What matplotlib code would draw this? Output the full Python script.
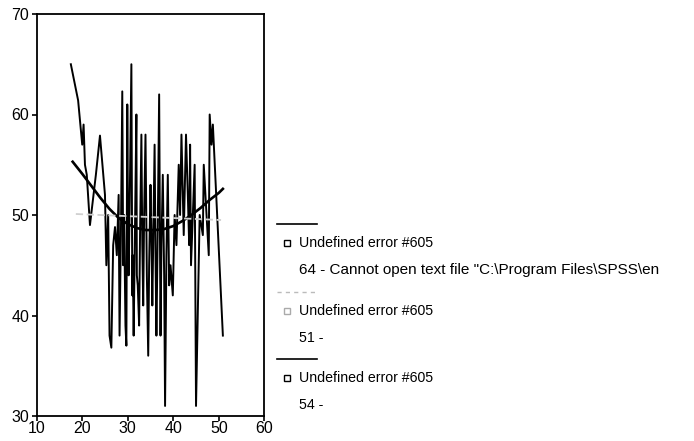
import matplotlib
matplotlib.use("Agg")
import matplotlib.pyplot as plt
from matplotlib.lines import Line2D

plt.rcParams['font.family'] = ['Liberation Sans', 'DejaVu Sans']

# observed series (jagged line)
obs_x = [17.5, 19.1, 20.0, 20.3, 20.6, 21.0, 21.7, 23.0, 23.9, 25.0, 25.3, 25.7, 26.0, 26.4,
         26.8, 27.2, 27.6, 28.0, 28.2, 28.5, 28.8, 29.0, 29.2, 29.5, 29.7, 29.9, 30.1,
         30.2, 30.4, 30.8, 31.0, 31.1, 31.3, 31.6, 31.9, 32.0, 32.2, 32.5, 32.7, 33.0,
         33.2, 33.4, 33.6, 33.9, 34.2, 34.5, 34.7, 35.0, 35.2, 35.4, 35.9, 36.1, 36.3,
         36.6, 36.9, 37.2, 37.4, 37.7, 38.0, 38.2, 38.5, 38.8, 39.1, 39.4, 39.9, 40.3,
         40.7, 41.2, 41.5, 41.8, 42.3, 42.8, 43.2, 43.5, 43.7, 43.9, 44.3, 44.7, 45.0,
         45.8, 46.5, 46.7, 47.8, 48.0, 48.4, 48.7, 50.9]
obs_y = [65, 61.4, 57, 59, 55, 54, 49, 54, 57.9, 52, 45, 50, 38, 36.8,
         47, 48.8, 46, 52, 38, 48, 62.3, 45, 50, 39, 37, 61, 47,
         44, 50, 65, 42, 46, 38, 49, 60, 44, 43, 39, 48, 58,
         47, 41, 50, 58, 44, 36, 45, 53, 48, 41, 57, 46, 38,
         49, 62, 38, 47, 54, 44, 31, 46, 54, 43, 45, 42, 50,
         47, 55, 50, 58, 48, 58, 52, 47, 57, 45, 50, 55, 31,
         50, 48, 55, 46, 60, 57, 59, 38]

# quadratic fit curve
quad_x = [17.9, 20, 22, 24, 26, 28, 30, 32, 34, 36, 38, 40, 42, 44, 46, 48, 50, 50.9]
quad_y = [55.3, 54.1, 52.9, 51.7, 50.6, 49.7, 49.1, 48.7, 48.5, 48.5, 48.6, 48.9, 49.4,
          50.0, 50.7, 51.5, 52.2, 52.6]

# linear fit line
lin_x = [18.6, 50.5]
lin_y = [50.1, 49.5]

x_ticks = [10, 20, 30, 40, 50, 60]
y_ticks = [30, 40, 50, 60, 70]

legend_titles = ["Undefined error #605", "Undefined error #605", "Undefined error #605"]
legend_subs = ['64 - Cannot open text file "C:\\Program Files\\SPSS\\en', "51 -", "54 -"]

W, H = 694, 441
fig = plt.figure(figsize=(W / 100, H / 100), dpi=100)
ax = fig.add_axes([36.7 / W, 1 - 416 / H, (264.3 - 36.7) / W, (416 - 14) / H])

ax.plot(obs_x, obs_y, color='black', lw=1.4, zorder=2)
ax.plot(quad_x, quad_y, color='black', lw=1.9, zorder=3)
ax.plot(lin_x, lin_y, color='#d0d0d0', lw=1.3, ls=(0, (4, 2)), zorder=4)

ax.set_xlim(10, 60)
ax.set_ylim(30, 70)
ax.set_xticks(x_ticks)
ax.set_yticks(y_ticks)
ax.tick_params(direction='out', length=3.5, width=1.2, labelsize=11.5)
ax.tick_params(axis='x', pad=0)
ax.tick_params(axis='y', pad=2)
for s in ax.spines.values():
    s.set_linewidth(1.3)

# legend drawn manually
def fx(px):
    return px / W

def fy(py):
    return 1 - py / H

line_styles = [dict(color='black', lw=1.2),
               dict(color='#bbbbbb', lw=1.0, ls=(0, (3, 3))),
               dict(color='black', lw=1.2)]
marker_colors = ['black', '#aaaaaa', 'black']
group_top = [224, 292, 359]
sub_sizes = [11.0, 10.2, 10.2]
for i in range(3):
    y0 = group_top[i]
    fig.add_artist(Line2D([fx(277), fx(317)], [fy(y0), fy(y0)], transform=fig.transFigure,
                          **line_styles[i]))
    fig.add_artist(Line2D([fx(287)], [fy(y0 + 19)], transform=fig.transFigure, marker='s',
                          markersize=4.5, markerfacecolor='white',
                          markeredgecolor=marker_colors[i], markeredgewidth=1.0, ls='none'))
    fig.text(fx(299), fy(y0 + 19), legend_titles[i], fontsize=10.2, va='center', ha='left')
    fig.text(fx(299), fy(y0 + 46), legend_subs[i], fontsize=sub_sizes[i], va='center', ha='left')

fig.savefig("out.png", dpi=100)
